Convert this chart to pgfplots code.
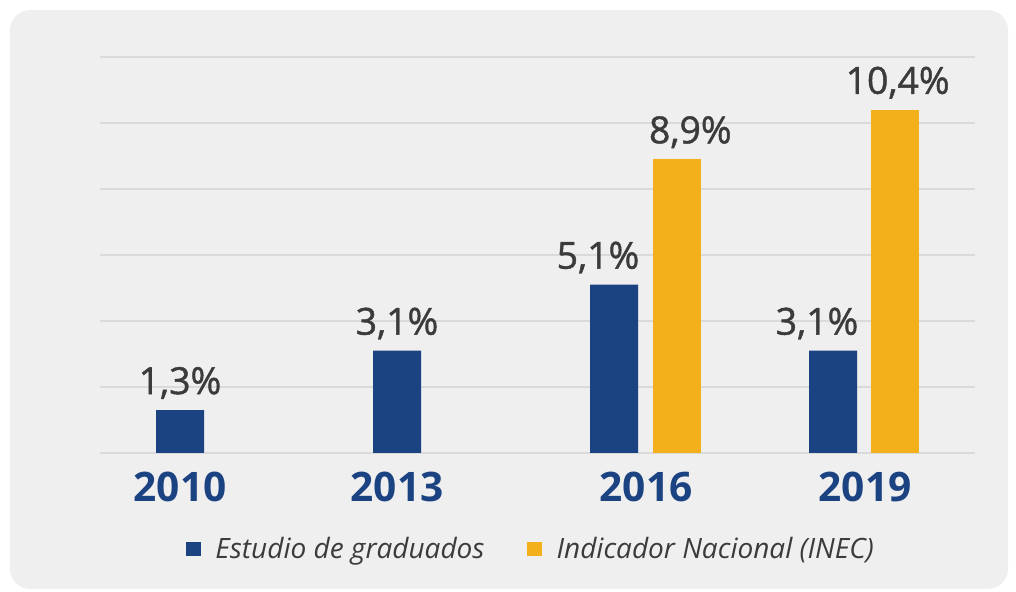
\documentclass[border=0pt]{standalone}
\usepackage{fontspec}
\setmainfont{Open Sans}
\newfontfamily\sbfont{Open Sans}[FakeBold=1.2]
\usepackage{pgfplots}
\pgfplotsset{compat=1.18}
\definecolor{barblue}{HTML}{1B4281}
\definecolor{barorange}{HTML}{F4B01B}
\definecolor{panel}{HTML}{EFEFEF}
\definecolor{gridc}{HTML}{DADADA}
\definecolor{txt}{HTML}{3B3B3B}
\begin{document}
\begin{tikzpicture}
\begin{axis}[
  set layers=standard,
  scale only axis, width=656.25pt, height=297pt,
  xmin=100, xmax=975, ymin=0, ymax=12,
  axis line style={draw=none}, tick style={draw=none},
  ytick={0,2,...,12}, yticklabels={},
  ymajorgrids, grid style={gridc, line width=1.2pt},
  xtick={180,397,646,865}, xticklabels={2010,2013,2016,2019},
  xticklabel style={font=\bfseries\fontsize{30.5}{32}\selectfont, text=barblue, anchor=base, yshift=-32pt},
  clip=false,
  ybar, bar width=36pt,
  nodes near coords,
  nodes near coords style={font=\sbfont\fontsize{28}{30}\selectfont, text=txt, anchor=base, yshift=12pt},
  point meta=explicit symbolic,
  legend columns=2,
  legend style={draw=none, fill=none, at={(0.0935,-0.2424)}, anchor=west,
    font=\itshape\fontsize{21}{24}\selectfont, text=txt,
    /tikz/every odd column/.append style={column sep=9pt},
    /tikz/every even column/.append style={column sep=30pt}},
  legend image code/.code={\fill[#1,draw=none] (0pt,-5.5pt) rectangle (11pt,5.5pt);},
]
\begin{pgfonlayer}{axis background}
\fill[panel, rounded corners=15pt] (axis cs:10,13.42) rectangle (axis cs:1008,-4.12);
\end{pgfonlayer}
\path (axis cs:0,13.727) rectangle (axis cs:1016,-4.212);
\addplot[fill=barblue, draw=none, bar shift=0pt] coordinates {(180,1.3) [1,3\%] (397,3.1) [3,1\%]};
\addlegendentry{Estudio de graduados}
\addplot[fill=barorange, draw=none, bar shift=0pt, nodes near coords style={xshift=10pt}] coordinates {(677,8.9) [8,9\%]};
\addlegendentry{Indicador Nacional (INEC)}
\addplot[fill=barblue, draw=none, bar shift=0pt, forget plot, nodes near coords style={xshift=-12pt}] coordinates {(614,5.1) [5,1\%] (833,3.1) [3,1\%]};
\addplot[fill=barorange, draw=none, bar shift=0pt, forget plot, nodes near coords style={xshift=2pt}] coordinates {(895,10.4) [10,4\%]};
\end{axis}
\end{tikzpicture}
\end{document}
